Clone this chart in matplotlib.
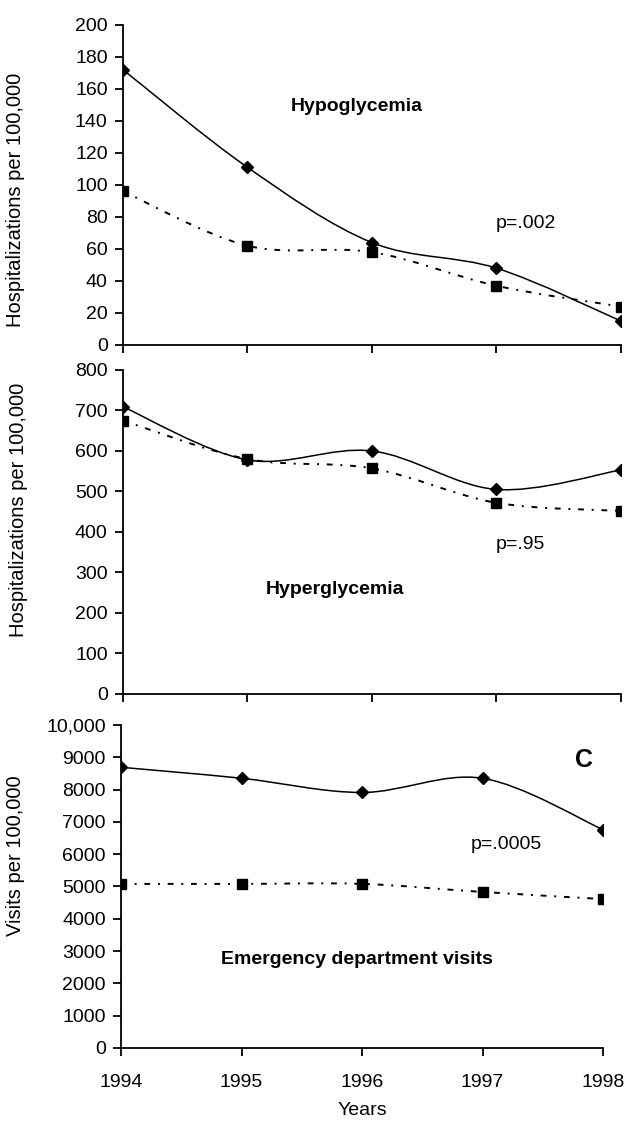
import numpy as np
import matplotlib
matplotlib.use("Agg")
import matplotlib.pyplot as plt
from matplotlib.path import Path
from matplotlib.patches import PathPatch

plt.rcParams['font.family'] = ['Liberation Sans', 'DejaVu Sans']

years = [1994, 1995, 1996, 1997, 1998]

# panel A - hypoglycemia
hypo_solid = [172, 111, 64, 48, 15]
hypo_dot = [96, 62, 58, 37, 24]
# panel B - hyperglycemia
hyper_solid = [709, 578, 600, 505, 553]
hyper_dot = [675, 580, 557, 472, 452]
# panel C - emergency department visits
ed_solid = [8690, 8350, 7910, 8350, 6760]
ed_dot = [5080, 5080, 5080, 4830, 4610]

hypo_ticks = [0, 20, 40, 60, 80, 100, 120, 140, 160, 180, 200]
hyper_ticks = [0, 100, 200, 300, 400, 500, 600, 700, 800]
ed_ticks = [0, 1000, 2000, 3000, 4000, 5000, 6000, 7000, 8000, 9000, 10000]
ed_labels = ['0', '1000', '2000', '3000', '4000', '5000', '6000', '7000',
             '8000', '9000', '10,000']

FS = 14


def smooth_path(x, y):
    # excel style smoothed line: catmull-rom segments as cubic beziers
    x = np.asarray(x, float)
    y = np.asarray(y, float)
    px = np.concatenate([[x[0]], x, [x[-1]]])
    py = np.concatenate([[y[0]], y, [y[-1]]])
    verts = [(x[0], y[0])]
    codes = [Path.MOVETO]
    for i in range(1, len(x)):
        c1 = (px[i] + (px[i + 1] - px[i - 1]) / 6, py[i] + (py[i + 1] - py[i - 1]) / 6)
        c2 = (px[i + 1] - (px[i + 2] - px[i]) / 6, py[i + 1] - (py[i + 2] - py[i]) / 6)
        verts += [c1, c2, (x[i], y[i])]
        codes += [Path.CURVE4] * 3
    return Path(verts, codes)


def draw_panel(ax, solid, dot, ticks, labels=None):
    ax.add_patch(PathPatch(smooth_path(years, solid), fill=False, color='black',
                           lw=1.1, zorder=2))
    ax.add_patch(PathPatch(smooth_path(years, dot), fill=False, color='black',
                           lw=1.4, linestyle=(0, (3, 4, 1, 4)), zorder=2))
    ax.plot(years, solid, linestyle='', marker='D', ms=6.5, color='black', zorder=3)
    ax.plot(years, dot, linestyle='', marker='s', ms=7.5, color='black', zorder=3)
    ax.set_xlim(1994, 1998)
    ax.set_ylim(ticks[0], ticks[-1])
    ax.set_yticks(ticks)
    if labels is not None:
        ax.set_yticklabels(labels)
    ax.set_xticks(years)
    for s in ['top', 'right']:
        ax.spines[s].set_visible(False)
    for s in ['left', 'bottom']:
        ax.spines[s].set_linewidth(1.3)
    ax.tick_params(axis='both', labelsize=FS, width=1.3, length=6, direction='out')
    ax.tick_params(axis='y', pad=5)
    ax.tick_params(axis='x', pad=13)
    for sp in ax.spines.values():
        sp.set_clip_on(False)


fig = plt.figure(figsize=(6.29, 11.31), dpi=100)
ax1 = fig.add_axes([0.1955, 0.695, 0.7915, 0.283])
ax2 = fig.add_axes([0.1955, 0.3864, 0.7915, 0.2865])
ax3 = fig.add_axes([0.1924, 0.0734, 0.7663, 0.2856])

draw_panel(ax1, hypo_solid, hypo_dot, hypo_ticks)
draw_panel(ax2, hyper_solid, hyper_dot, hyper_ticks)
draw_panel(ax3, ed_solid, ed_dot, ed_ticks, ed_labels)

ax1.set_xticklabels([])
ax2.set_xticklabels([])
ax3.set_xticklabels([str(y) for y in years])

ax1.set_ylabel('Hospitalizations per 100,000', fontsize=FS + 0.5)
ax2.set_ylabel('Hospitalizations per 100,000', fontsize=FS + 0.5)
ax3.set_ylabel('Visits per 100,000', fontsize=FS + 0.5)
ax1.yaxis.set_label_coords(-0.197, 0.453)
ax2.yaxis.set_label_coords(-0.191, 0.568)
ax3.yaxis.set_label_coords(-0.199, 0.594)
ax3.set_xlabel('Years', fontsize=FS, labelpad=8)

ax1.text(1995.88, 149, 'Hypoglycemia', fontsize=FS, fontweight='bold', ha='center', va='center')
ax1.text(1997.24, 76, 'p=.002', fontsize=FS, ha='center', va='center')
ax2.text(1997.19, 368, 'p=.95', fontsize=FS, ha='center', va='center')
ax2.text(1995.7, 257, 'Hyperglycemia', fontsize=FS, fontweight='bold', ha='center', va='center')
ax3.text(1997.84, 8920, 'C', fontsize=18, fontweight='bold', ha='center', va='center')
ax3.text(1997.2, 6290, 'p=.0005', fontsize=FS, ha='center', va='center')
ax3.text(1995.96, 2730, 'Emergency department visits', fontsize=FS, fontweight='bold',
         ha='center', va='center')

fig.savefig('out.png', dpi=100)
